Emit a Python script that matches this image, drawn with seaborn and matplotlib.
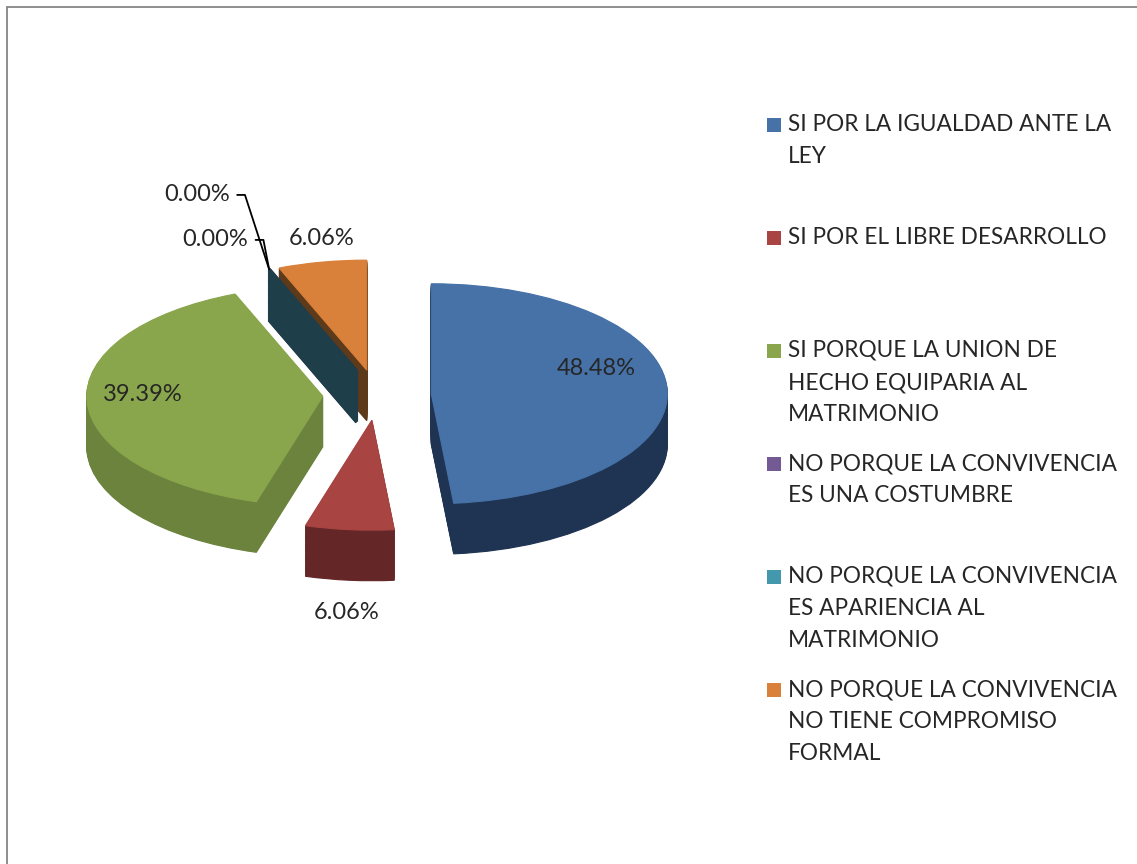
import numpy as np
import matplotlib.pyplot as plt
import seaborn as sns
from matplotlib.patches import Rectangle

CATEGORIES = [
    'SI POR LA IGUALDAD ANTE LA LEY',
    'SI POR EL LIBRE DESARROLLO',
    'SI PORQUE LA UNION DE HECHO EQUIPARIA AL MATRIMONIO',
    'NO PORQUE LA CONVIVENCIA ES UNA COSTUMBRE',
    'NO PORQUE LA CONVIVENCIA ES APARIENCIA AL MATRIMONIO',
    'NO PORQUE LA CONVIVENCIA NO TIENE COMPROMISO FORMAL',
]
LEGEND_TEXT = [
    'SI POR LA IGUALDAD ANTE LA\nLEY',
    'SI POR EL LIBRE DESARROLLO',
    'SI PORQUE LA UNION DE\nHECHO EQUIPARIA AL\nMATRIMONIO',
    'NO PORQUE LA CONVIVENCIA\nES UNA COSTUMBRE',
    'NO PORQUE LA CONVIVENCIA\nES APARIENCIA AL\nMATRIMONIO',
    'NO PORQUE LA CONVIVENCIA\nNO TIENE COMPROMISO\nFORMAL',
]
COUNTS = [16, 2, 13, 0, 0, 2]

TOP_COLORS = ['#4672A8', '#A84442', '#8AA64C', '#735A94', '#4398AE', '#D9803A']
SIDE_COLORS = ['#1F3453', '#652628', '#6B833D', '#3E2E55', '#1E3E4A', '#5C3A1A']

# drawing order of the slices, back to front
RANKS = [3, 4, 3, 1, 2, 0]
# label offset from each exploded slice centre (data units)
LABEL_OFFSETS = [(0.70, 0.234), (-0.105, -1.753), (-0.762, 0.011),
                 (-0.678, 1.605), (-0.60, 1.196), (-0.19, 1.20)]
# angle of the leader line's slanted part for the 0 % labels
LEADER_ANGLES = {3: 108, 4: 101}

EXPLODE = 0.23
DEPTH = 0.46
N_LAYERS = 46

sns.set_theme(style="white")
plt.rcParams['font.family'] = ['Lato', 'DejaVu Sans']

fig = plt.figure(figsize=(11.37, 8.64), dpi=100)
ax = fig.add_axes([40 / 1137, 164 / 864, 680 / 1137, 550 / 864])

top_pal = sns.color_palette(TOP_COLORS)
side_pal = sns.color_palette(SIDE_COLORS)

# fake 3D: stack the pie downwards, darker sides first, lit top last
top_wedges = None
for k in range(N_LAYERS, -1, -1):
    dy = DEPTH * k / N_LAYERS
    cols = side_pal if k else top_pal
    wedges, _ = ax.pie(COUNTS, explode=[EXPLODE] * len(COUNTS), startangle=90,
                       counterclock=False, center=(0, -dy), colors=cols,
                       wedgeprops=dict(linewidth=0.8))
    for i, w in enumerate(wedges):
        w.set_zorder(RANKS[i] * 100 + (N_LAYERS - k))
        if COUNTS[i] == 0:
            w.set_edgecolor(side_pal[i])
            w.set_linewidth(2.5)
        else:
            w.set_edgecolor(cols[i])
    if k == 0:
        top_wedges = wedges

total = sum(COUNTS)
for i, w in enumerate(top_wedges):
    cx, cy = w.center
    ox, oy = LABEL_OFFSETS[i]
    pct = f"{100 * COUNTS[i] / total:.2f}%"
    if COUNTS[i] == 0:
        ang = np.deg2rad(w.theta1)
        tip = (cx + w.r * np.cos(ang), cy + w.r * np.sin(ang))
        ax.annotate(pct, xy=tip, xytext=(cx + ox, cy + oy), fontsize=17,
                    ha='center', va='center', zorder=1000,
                    arrowprops=dict(arrowstyle='-', color='black', lw=1.3,
                                    connectionstyle=f'angle,angleA=0,angleB={LEADER_ANGLES[i]},rad=0',
                                    shrinkA=3, shrinkB=0))
    else:
        ax.text(cx + ox, cy + oy, pct, fontsize=17, ha='center', va='center',
                zorder=1000)

ax.set_aspect('auto')
ax.set_xlim(-1.428, 1.453)
ax.set_ylim(-2.773, 2.227)
ax.axis('off')

# legend
leg = fig.add_axes([0, 0, 1, 1])
leg.set_xlim(0, 1137)
leg.set_ylim(864, 0)
leg.axis('off')
ys = [125 + 113 * i for i in range(len(CATEGORIES))]
leg.scatter([774] * len(ys), ys, marker='s', s=100, c=TOP_COLORS, linewidths=0)
for y, txt in zip(ys, LEGEND_TEXT):
    leg.text(788, y - 11, txt, fontsize=16.3, ha='left', va='top', linespacing=1.66)

# chart border
fig.add_artist(Rectangle((7 / 1137, -0.1), 1.2, 1.1 - 7 / 864, transform=fig.transFigure,
                         fill=False, edgecolor='#868686', linewidth=1.3))

fig.savefig('out.png', dpi=100, facecolor='white')
